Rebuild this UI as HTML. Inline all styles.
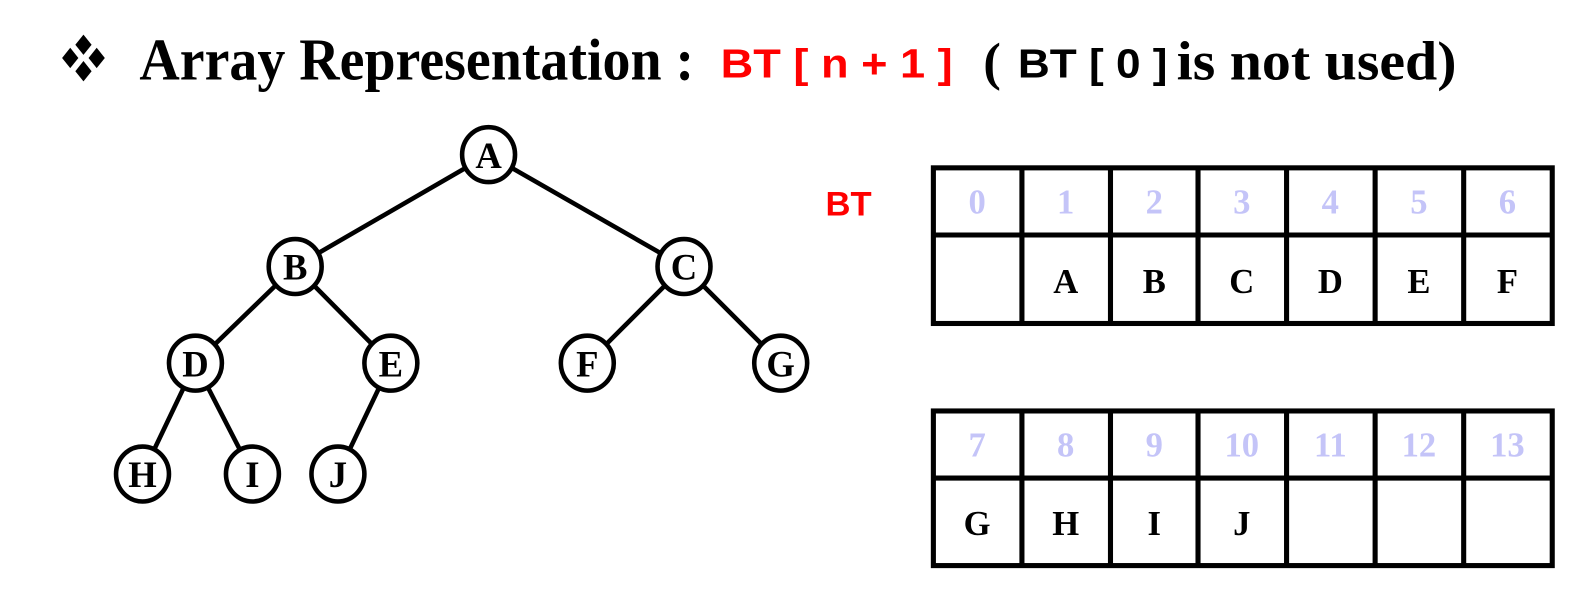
<!DOCTYPE html>
<html><head><style>
body{margin:0;background:#fff;}
svg{display:block}
.s{font-family:"Liberation Serif",serif;font-weight:bold}
.a{font-family:"Liberation Sans",sans-serif;font-weight:bold}
</style></head><body>
<svg width="1596" height="590" viewBox="0 0 1568 580" preserveAspectRatio="none" xmlns="http://www.w3.org/2000/svg">
<g fill="#000">
<polygon points="82,34 90,44 82,54 74,44"/>
<polygon points="69,47 77,57 69,67 61,57"/>
<polygon points="95,47 103,57 95,67 87,57"/>
<polygon points="82,60 90,70 82,80 74,70"/>
</g>
<text x="137" y="78" class="s" font-size="58" textLength="545" lengthAdjust="spacingAndGlyphs">Array Representation :</text>
<text x="708" y="76" class="a" font-size="40" fill="#f00" textLength="228" lengthAdjust="spacingAndGlyphs">BT [ n + 1 ]</text>
<text x="966" y="78" class="s" font-size="52">(</text>
<text x="1000" y="76" class="a" font-size="40" textLength="147" lengthAdjust="spacingAndGlyphs">BT [ 0 ]</text>
<text x="1156" y="78" class="s" font-size="54" textLength="275" lengthAdjust="spacingAndGlyphs">is not used)</text>
<text x="811" y="212" class="a" font-size="34" fill="#f00">BT</text>
<g stroke="#000" stroke-width="4.5" fill="none">
<line x1="480" y1="152" x2="290" y2="262"/><line x1="480" y1="152" x2="672" y2="262"/>
<line x1="290" y1="262" x2="192" y2="357"/><line x1="290" y1="262" x2="384" y2="357"/>
<line x1="672" y1="262" x2="577" y2="357"/><line x1="672" y1="262" x2="767" y2="357"/>
<line x1="192" y1="357" x2="140" y2="466"/><line x1="192" y1="357" x2="248" y2="466"/>
<line x1="384" y1="357" x2="332" y2="466"/>
</g>
<g stroke="#000" stroke-width="4.5" fill="#fff">
<ellipse cx="480" cy="152" rx="26" ry="27"/><ellipse cx="290" cy="262" rx="26" ry="27"/><ellipse cx="672" cy="262" rx="26" ry="27"/>
<ellipse cx="192" cy="357" rx="26" ry="27"/><ellipse cx="384" cy="357" rx="26" ry="27"/><ellipse cx="577" cy="357" rx="26" ry="27"/><ellipse cx="767" cy="357" rx="26" ry="27"/>
<ellipse cx="140" cy="466" rx="26" ry="27"/><ellipse cx="248" cy="466" rx="26" ry="27"/><ellipse cx="332" cy="466" rx="26" ry="27"/>
</g>
<g class="s" font-size="36" text-anchor="middle">
<text x="480" y="165">A</text><text x="290" y="275">B</text><text x="672" y="275">C</text>
<text x="192" y="370">D</text><text x="384" y="370">E</text><text x="577" y="370">F</text><text x="767" y="370">G</text>
<text x="140" y="479">H</text><text x="248" y="479">I</text><text x="332" y="479">J</text>
</g>
<g stroke="#000" stroke-width="5" fill="none">
<rect x="917" y="165" width="608" height="153"/>
<line x1="917" y1="231" x2="1525" y2="231"/>
<line x1="1004" y1="165" x2="1004" y2="318"/><line x1="1091" y1="165" x2="1091" y2="318"/><line x1="1177" y1="165" x2="1177" y2="318"/>
<line x1="1264" y1="165" x2="1264" y2="318"/><line x1="1351" y1="165" x2="1351" y2="318"/><line x1="1438" y1="165" x2="1438" y2="318"/>
<rect x="917" y="404" width="608" height="152"/>
<line x1="917" y1="470" x2="1525" y2="470"/>
<line x1="1004" y1="404" x2="1004" y2="556"/><line x1="1091" y1="404" x2="1091" y2="556"/><line x1="1177" y1="404" x2="1177" y2="556"/>
<line x1="1264" y1="404" x2="1264" y2="556"/><line x1="1351" y1="404" x2="1351" y2="556"/><line x1="1438" y1="404" x2="1438" y2="556"/>
</g>
<g class="s" font-size="34" text-anchor="middle" fill="#c4c4f8">
<text x="960" y="210">0</text><text x="1047" y="210">1</text><text x="1134" y="210">2</text><text x="1220" y="210">3</text><text x="1307" y="210">4</text><text x="1394" y="210">5</text><text x="1481" y="210">6</text>
<text x="960" y="449">7</text><text x="1047" y="449">8</text><text x="1134" y="449">9</text><text x="1220" y="449">10</text><text x="1307" y="449">11</text><text x="1394" y="449">12</text><text x="1481" y="449">13</text>
</g>
<g class="s" font-size="34" text-anchor="middle">
<text x="1047" y="288">A</text><text x="1134" y="288">B</text><text x="1220" y="288">C</text><text x="1307" y="288">D</text><text x="1394" y="288">E</text><text x="1481" y="288">F</text>
<text x="960" y="526">G</text><text x="1047" y="526">H</text><text x="1134" y="526">I</text><text x="1220" y="526">J</text>
</g>
</svg>
</body></html>
